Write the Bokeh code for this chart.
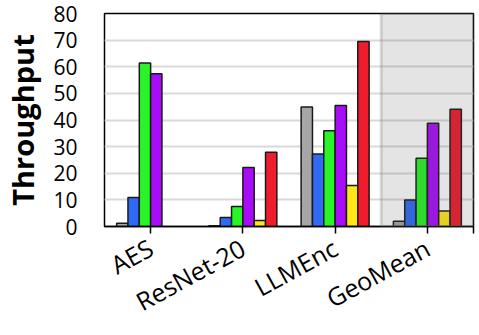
from bokeh.plotting import figure
from bokeh.models import Range1d, FixedTicker, BoxAnnotation, ColumnDataSource
from bokeh.embed import file_html
from bokeh.resources import INLINE

nan = float("nan")

categories = ["AES", "ResNet-20", "LLMEnc", "GeoMean"]
series_gray = [1.2, 0.3, 44.9, 2.0]
series_blue = [10.9, 3.4, 27.2, 10.0]
series_green = [61.4, 7.5, 36.0, 25.6]
series_purple = [57.4, 22.2, 45.4, 38.8]
series_yellow = [nan, 2.3, 15.4, 5.8]
series_red = [nan, 27.9, 69.5, 44.0]
y_ticks = [0, 10, 20, 30, 40, 50, 60, 70, 80]

series = [series_gray, series_blue, series_green, series_purple, series_yellow, series_red]
colors = ["#a6a6a6", "#2e6af6", "#28f428", "#a80cf8", "#ffe619", "#ee1c2c"]

FONT = "Open Sans"

p = figure(width=479, height=335, x_range=Range1d(0, len(categories)), y_range=Range1d(0, 80),
           output_backend="svg", toolbar_location=None,
           min_border_left=102, min_border_right=6, min_border_top=13, min_border_bottom=109)
p.background_fill_color = "white"
p.border_fill_color = "white"
p.outline_line_color = "black"
p.outline_line_width = 1.5

bar_w = 0.1228
for k, (vals, col) in enumerate(zip(series, colors)):
    xs = [i + 0.5 + (k - 2.5) * bar_w for i in range(len(categories))]
    src = ColumnDataSource(dict(x=xs, top=vals))
    p.vbar(x="x", top="top", bottom=0, width=bar_w, source=src, fill_color=col,
           line_color="#1a1a1a", line_width=1.5)

# GeoMean highlight box
gm = categories.index("GeoMean")
p.add_layout(BoxAnnotation(left=gm, right=gm + 1, bottom=0, top=80, fill_color="#555555",
                           fill_alpha=0.16, line_color="#7f7f7f", line_width=3))

# grid
p.xgrid.grid_line_color = None
p.ygrid.ticker = FixedTicker(ticks=y_ticks)
p.ygrid.grid_line_color = "#d9d9d9"
p.ygrid.grid_line_width = 2

# y axis
p.yaxis.ticker = FixedTicker(ticks=y_ticks)
p.yaxis.axis_line_color = None
p.yaxis.major_tick_line_color = None
p.yaxis.minor_tick_line_color = None
p.yaxis.major_tick_in = 0
p.yaxis.major_tick_out = 0
p.yaxis.major_label_standoff = 27
p.yaxis.major_label_text_font = FONT
p.yaxis.major_label_text_font_size = "21px"
p.yaxis.major_label_text_color = "black"
p.yaxis.axis_label = "Throughput"
p.yaxis.axis_label_text_font = FONT
p.yaxis.axis_label_text_font_style = "bold"
p.yaxis.axis_label_text_font_size = "29px"
p.yaxis.axis_label_text_color = "black"
p.yaxis.axis_label_standoff = 8

# x axis
xt = [i + 0.5 for i in range(len(categories))] + [len(categories)]
p.xaxis.ticker = FixedTicker(ticks=xt)
overrides = {i + 0.5: c for i, c in enumerate(categories)}
overrides[len(categories)] = ""
p.xaxis.major_label_overrides = overrides
p.xaxis.axis_line_color = "black"
p.xaxis.axis_line_width = 1.5
p.xaxis.major_tick_line_color = "black"
p.xaxis.major_tick_line_width = 1.5
p.xaxis.major_tick_in = 0
p.xaxis.major_tick_out = 7
p.xaxis.minor_tick_line_color = None
p.xaxis.major_label_orientation = 0.5
p.xaxis.major_label_standoff = 12
p.xaxis.major_label_text_font = FONT
p.xaxis.major_label_text_font_size = "25px"
p.xaxis.major_label_text_color = "black"

open("out.html", "w").write(file_html(p, INLINE))
